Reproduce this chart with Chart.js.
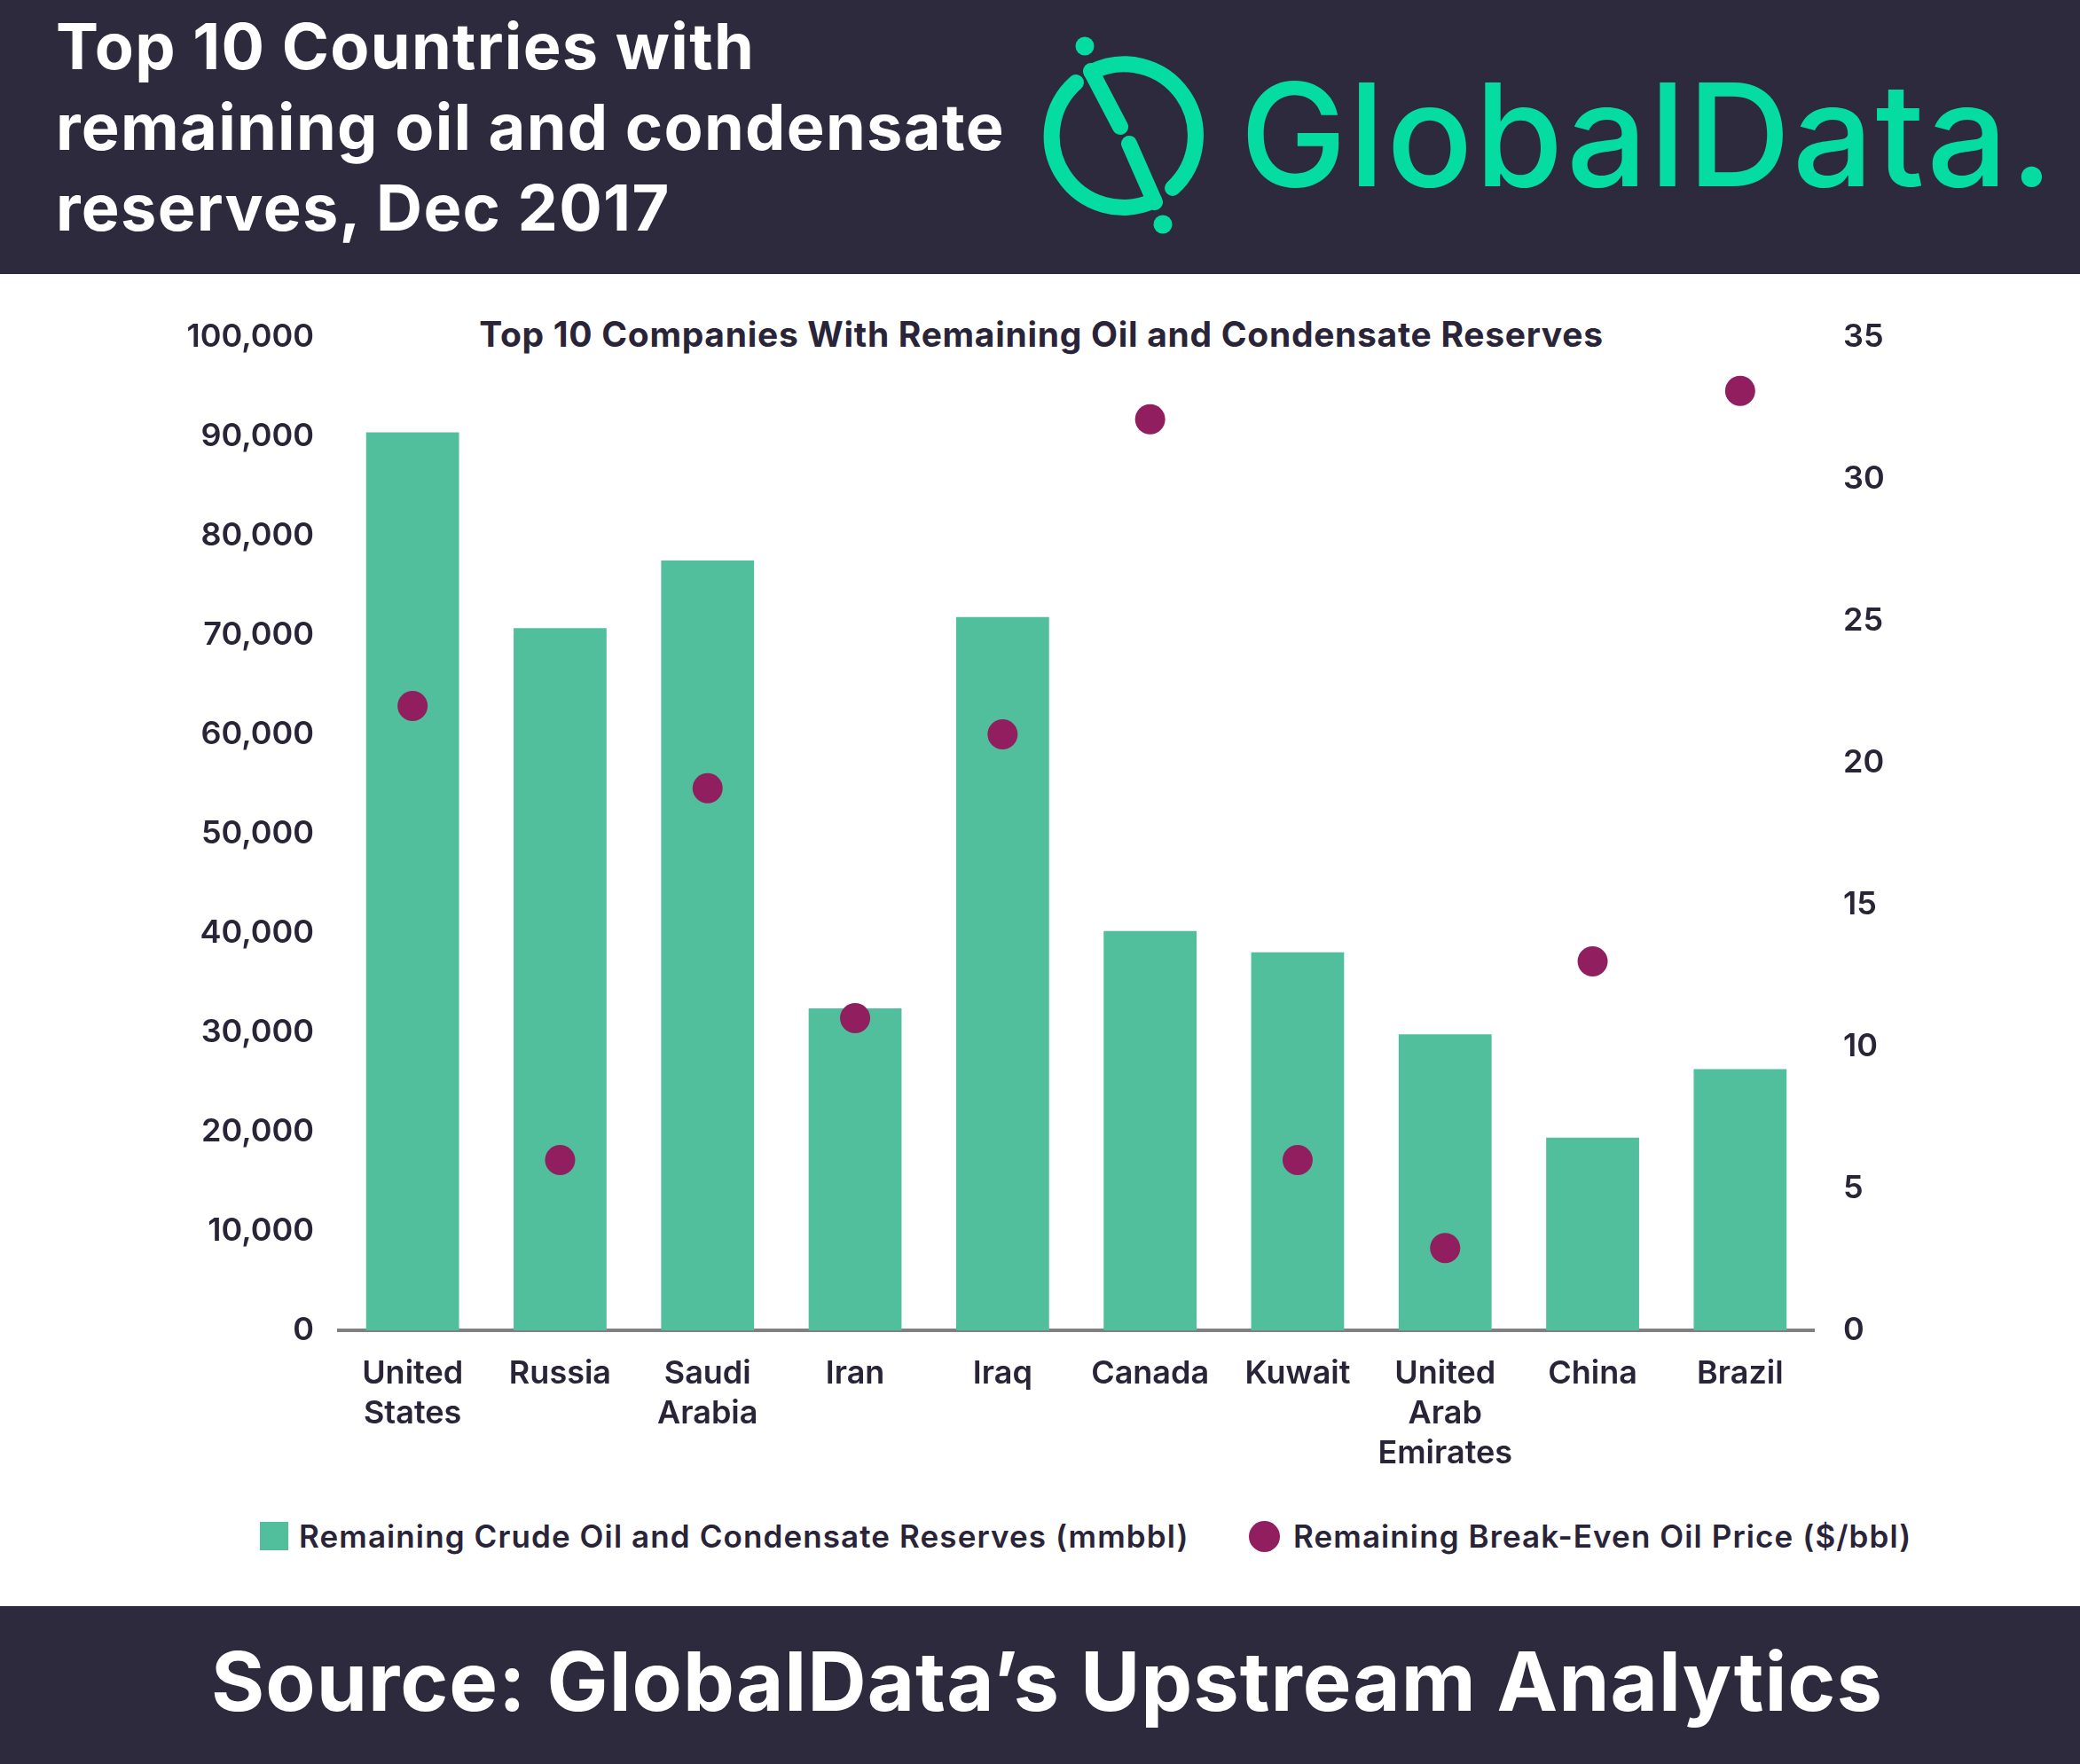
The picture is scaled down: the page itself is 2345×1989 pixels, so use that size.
<!DOCTYPE html>
<html>
<head>
<meta charset="utf-8">
<script src="https://cdn.jsdelivr.net/npm/chart.js@4/dist/chart.umd.min.js"></script>
<style>
    html, body { margin: 0; padding: 0; background: #ffffff; }
    body { width: 2345px; height: 1989px; position: relative; overflow: hidden; font-family: Inter, "Noto Sans", sans-serif; color: #2a2438; }
    .header { position: absolute; left: 0; top: 0; width: 2345px; height: 309px; background: #2e2a3e; }
    .header h1 { position: absolute; left: 63px; top: 6px; margin: 0; font-size: 72px; line-height: 91px; font-weight: 700; color: #ffffff; letter-spacing: 1.3px; }
    .brand { position: absolute; left: 1398px; top: 52px; font-size: 161px; line-height: 200px; font-weight: 500; color: #05dca2; letter-spacing: 2.2px; }
    .chart-title { position: absolute; left: 1174px; top: 355px; transform: translateX(-50%); white-space: nowrap; font-size: 39px; line-height: 44px; font-weight: 700; letter-spacing: 0.7px; }
    .chart-wrap { position: absolute; left: 0; top: 310px; width: 2345px; height: 1380px; }
    .legend-item { position: absolute; top: 1710px; height: 44px; display: flex; align-items: center; font-size: 35px; font-weight: 600; white-space: nowrap; letter-spacing: 1.1px; }
    .swatch { width: 32px; height: 32px; background: #51bf9b; margin-right: 12px; }
    .dot { width: 35px; height: 35px; border-radius: 50%; background: #911f5f; margin-right: 15px; }
    .footer { position: absolute; left: 0; top: 1811px; width: 2329px; height: 178px; padding-left: 16px; background: #2e2a3e; color: #ffffff; text-align: center; font-size: 92px; line-height: 170px; font-weight: 700; letter-spacing: 1px; }
</style>
</head>
<body>
<div class="header">
    <h1>Top 10 Countries with<br>remaining oil and condensate<br>reserves, Dec 2017</h1>
    <svg width="2345" height="309" style="position:absolute;left:0;top:0">
        <g fill="none" stroke="#05dca2" stroke-width="18" stroke-linecap="round">
            <path d="M1301 226 A80.5 80.5 0 0 1 1213 93"/>
            <path d="M1230.5 81.3 A80.5 80.5 0 0 1 1322 212"/>
            <line x1="1230" y1="80" x2="1263" y2="143"/>
            <line x1="1273" y1="162" x2="1302" y2="228"/>
        </g>
        <circle cx="1223" cy="52" r="10.5" fill="#05dca2"/>
        <circle cx="1311" cy="253" r="10.5" fill="#05dca2"/>
    </svg>
    <div class="brand">GlobalData.</div>
</div>

<div class="chart-title">Top 10 Companies With Remaining Oil and Condensate Reserves</div>
<div class="chart-wrap"><canvas id="reservesChart"></canvas></div>

<div class="legend-item" style="left:293px"><span class="swatch"></span>Remaining Crude Oil and Condensate Reserves (mmbbl)</div>
<div class="legend-item" style="left:1408px"><span class="dot"></span>Remaining Break-Even Oil Price ($/bbl)</div>

<div class="footer">Source: GlobalData’s Upstream Analytics</div>

<script>
// chart data
const countries = [
    ['United', 'States'], 'Russia', ['Saudi', 'Arabia'], 'Iran', 'Iraq',
    'Canada', 'Kuwait', ['United', 'Arab', 'Emirates'], 'China', 'Brazil'
];
const reserves = [90400, 70700, 77500, 32400, 71800, 40200, 38050, 29800, 19400, 26300];
const breakEven = [22.0, 6.0, 19.1, 11.0, 21.0, 32.1, 6.0, 2.9, 13.0, 33.1];
const reserveTicks = [0, 10000, 20000, 30000, 40000, 50000, 60000, 70000, 80000, 90000, 100000];
const priceTicks = [0, 5, 10, 15, 20, 25, 30, 35];

const textColor = '#2a2438';
const tickFont = { family: 'Inter', size: 36, weight: '600' };

document.addEventListener('DOMContentLoaded', function() {
    createReservesChart();
});

function createReservesChart() {
    const ctx = document.getElementById('reservesChart').getContext('2d');
    new Chart(ctx, {
        data: {
            labels: countries,
            datasets: [
                {
                    type: 'line',
                    label: 'Remaining Break-Even Oil Price ($/bbl)',
                    data: breakEven,
                    yAxisID: 'y1',
                    showLine: false,
                    pointRadius: 17,
                    pointHoverRadius: 17,
                    pointBackgroundColor: '#911f5f',
                    pointBorderWidth: 0,
                    borderColor: '#911f5f',
                    order: 0
                },
                {
                    type: 'bar',
                    label: 'Remaining Crude Oil and Condensate Reserves (mmbbl)',
                    data: reserves,
                    yAxisID: 'y',
                    backgroundColor: '#51bf9b',
                    categoryPercentage: 1,
                    barPercentage: 0.63,
                    order: 1
                }
            ]
        },
        options: {
            responsive: true,
            maintainAspectRatio: false,
            animation: false,
            layout: { padding: { top: 70, bottom: 0, left: 0, right: 0 } },
            plugins: {
                legend: { display: false },
                tooltip: { enabled: false }
            },
            scales: {
                x: {
                    grid: { display: false, drawTicks: false },
                    border: { display: true, color: '#808080', width: 4 },
                    ticks: { color: textColor, font: Object.assign({ lineHeight: 1.25 }, tickFont), padding: 27, maxRotation: 0, autoSkip: false },
                    afterFit: function(scale) { scale.height = 190; }
                },
                y: {
                    position: 'left',
                    min: 0,
                    max: 100000,
                    grid: { display: false, drawTicks: false },
                    border: { display: false },
                    afterBuildTicks: function(scale) { scale.ticks = reserveTicks.map(v => ({ value: v })); },
                    ticks: {
                        color: textColor,
                        font: tickFont,
                        padding: 28,
                        callback: function(value) { return value.toLocaleString('en-US'); }
                    },
                    afterFit: function(scale) { scale.width = 382; }
                },
                y1: {
                    position: 'right',
                    min: 0,
                    max: 35,
                    grid: { display: false, drawTicks: false },
                    border: { display: false },
                    afterBuildTicks: function(scale) { scale.ticks = priceTicks.map(v => ({ value: v })); },
                    ticks: { color: textColor, font: tickFont, padding: 33 },
                    afterFit: function(scale) { scale.width = 300; }
                }
            }
        }
    });
}
</script>
</body>
</html>
